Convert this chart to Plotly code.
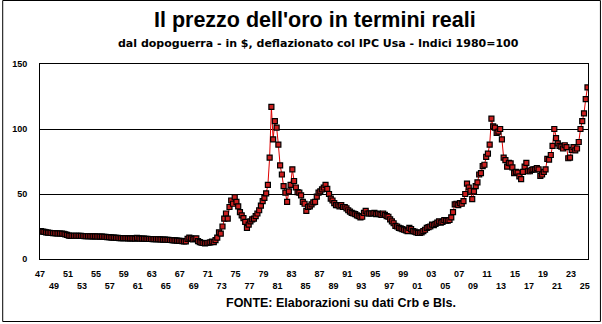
import numpy as np
import plotly.graph_objects as go

# Prezzo dell'oro in termini reali, indice 1980=100, dati trimestrali
primo_anno = 1947
indice = [
    21.5, 21.0, 20.8, 20.5,   # 1947
    20.3, 20.2, 20.0, 19.9,   # 1948
    19.8, 19.7, 19.6, 19.6,   # 1949
    19.5, 19.3, 19.0, 18.5,   # 1950
    18.0, 17.8, 17.9, 17.9,   # 1951
    17.9, 17.9, 17.8, 17.8,   # 1952
    17.7, 17.6, 17.5, 17.5,   # 1953
    17.5, 17.4, 17.4, 17.4,   # 1954
    17.3, 17.3, 17.2, 17.2,   # 1955
    17.1, 17.0, 16.9, 16.8,   # 1956
    16.6, 16.5, 16.4, 16.3,   # 1957
    16.2, 16.1, 16.1, 16.1,   # 1958
    16.0, 16.0, 15.9, 15.9,   # 1959
    15.8, 15.8, 15.7, 16.3,   # 1960
    15.8, 15.7, 15.6, 15.6,   # 1961
    15.5, 15.5, 15.4, 15.4,   # 1962
    15.3, 15.3, 15.2, 15.2,   # 1963
    15.1, 15.0, 14.9, 14.9,   # 1964
    14.8, 14.7, 14.6, 14.5,   # 1965
    14.4, 14.3, 14.1, 14.0,   # 1966
    13.9, 13.8, 13.6, 13.5,   # 1967
    15.5, 16.5, 15.8, 15.0,   # 1968
    15.5, 15.8, 13.8, 13.0,   # 1969
    12.5, 12.3, 12.0, 12.3,   # 1970
    12.5, 12.8, 13.3, 13.0,   # 1971
    14.5, 16.5, 20.5, 19.5,   # 1972
    25.0, 31.0, 35.0, 31.0,   # 1973
    40.0, 45.0, 42.5, 47.5,   # 1974
    44.0, 40.5, 36.0, 33.5,   # 1975
    31.5, 28.5, 24.0, 26.5,   # 1976
    29.0, 30.5, 31.0, 33.0,   # 1977
    35.0, 37.5, 41.0, 44.5,   # 1978
    47.0, 50.5, 57.0, 78.0,   # 1979
    117.0, 92.0, 106.0, 101.0,  # 1980
    88.0, 72.0, 65.0, 56.0,   # 1981
    51.0, 44.0, 52.0, 57.0,   # 1982
    69.0, 60.0, 55.0, 51.5,   # 1983
    51.0, 49.0, 44.0, 42.5,   # 1984
    37.0, 40.0, 40.5, 42.0,   # 1985
    43.5, 44.0, 48.0, 51.0,   # 1986
    52.0, 53.5, 55.0, 57.0,   # 1987
    54.0, 50.0, 46.5, 45.0,   # 1988
    43.0, 41.5, 41.5, 40.5,   # 1989
    41.5, 40.0, 40.0, 39.0,   # 1990
    37.5, 36.5, 35.5, 35.0,   # 1991
    34.5, 33.5, 33.0, 32.0,   # 1992
    32.5, 35.5, 37.0, 35.0,   # 1993
    35.0, 35.0, 35.0, 35.5,   # 1994
    34.5, 35.0, 34.5, 34.0,   # 1995
    35.0, 34.0, 33.0, 32.5,   # 1996
    30.5, 29.0, 27.5, 25.5,   # 1997
    25.0, 24.0, 23.5, 23.0,   # 1998
    22.5, 22.0, 21.5, 24.0,   # 1999
    23.0, 21.5, 21.0, 20.5,   # 2000
    20.0, 20.0, 20.5, 21.5,   # 2001
    22.5, 24.0, 24.5, 25.0,   # 2002
    26.5, 26.0, 27.0, 28.0,   # 2003
    29.0, 28.0, 28.5, 30.0,   # 2004
    29.5, 29.5, 30.0, 32.0,   # 2005
    36.0, 42.0, 42.5, 41.5,   # 2006
    43.0, 42.5, 44.5, 50.0,   # 2007
    58.0, 55.0, 52.5, 46.0,   # 2008
    52.0, 56.0, 59.0, 65.0,   # 2009
    66.0, 71.5, 72.5, 78.5,   # 2010
    81.0, 88.0, 108.0, 102.0,  # 2011
    101.0, 97.0, 98.0, 100.0,  # 2012
    92.0, 78.0, 76.0, 71.0,   # 2013
    74.0, 73.5, 70.5, 66.0,   # 2014
    67.0, 66.5, 63.5, 61.5,   # 2015
    67.0, 71.0, 74.0, 67.5,   # 2016
    67.5, 68.5, 69.0, 69.0,   # 2017
    70.0, 69.0, 64.0, 65.0,   # 2018
    67.0, 69.0, 77.0, 76.5,   # 2019
    80.0, 87.0, 100.0, 93.0,  # 2020
    89.0, 87.0, 86.5, 85.0,   # 2021
    87.5, 86.0, 77.5, 78.0,   # 2022
    84.0, 86.0, 83.5, 85.0,   # 2023
    90.0, 100.0, 106.0, 112.0,  # 2024
    123.0, 132.0,             # 2025
]

# etichette dell'asse orizzontale: un anno dispari ogni due, su due righe
anni_etichette = list(range(1947, 2026, 2))
etichette = [f"{a % 100:02d}" for a in anni_etichette]
valori_asse_y = [0, 50, 100, 150]

# posizione di ciascun trimestre al centro del periodo
tempo = primo_anno + (np.arange(len(indice)) + 0.5) / 4.0

FONT = "Liberation Sans, Arial, sans-serif"
FONT_LARGO = "DejaVu Sans, Verdana, sans-serif"

fig = go.Figure()
fig.add_trace(go.Scatter(
    x=tempo,
    y=indice,
    mode="lines+markers",
    line=dict(color="#e00000", width=1),
    marker=dict(symbol="square", size=5, color="#cc1f1f",
                line=dict(color="#000000", width=1.2)),
    showlegend=False,
    hoverinfo="x+y",
))

fig.update_layout(
    width=602,
    height=324,
    margin=dict(l=38, r=13, t=64, b=65),
    paper_bgcolor="white",
    plot_bgcolor="white",
    font=dict(family=FONT, color="black"),
    title=dict(
        text="<b>Il prezzo dell'oro in termini reali</b>",
        font=dict(family=FONT, size=21.5, color="black"),
        x=0.523, xanchor="center",
        y=1 - 19 / 324, yanchor="middle",
    ),
    xaxis=dict(
        range=[1947.0, 2025.45],
        tickmode="array",
        tickvals=anni_etichette,
        # le etichette alternano riga alta e riga bassa
        ticktext=[f"<b>{t}</b>" if i % 2 == 0 else f"<br><b>{t}</b>"
                  for i, t in enumerate(etichette)],
        tickfont=dict(family=FONT, size=9, color="black"),
        tickangle=0,
        showgrid=False,
        zeroline=False,
        showline=True, linecolor="black", linewidth=1, mirror=True,
        ticks="", ticklabelstandoff=6,
    ),
    yaxis=dict(
        range=[0, 150],
        tickmode="array",
        tickvals=valori_asse_y,
        ticktext=[f"<b>{v}</b>" for v in valori_asse_y],
        tickfont=dict(family=FONT, size=9, color="black"),
        showgrid=True, gridcolor="black", gridwidth=1,
        zeroline=False,
        showline=True, linecolor="black", linewidth=1, mirror=True,
        ticks="", ticklabelstandoff=10,
    ),
    annotations=[
        dict(
            text="<b>dal dopoguerra - in $, deflazionato col IPC Usa - Indici 1980=100</b>",
            xref="paper", yref="paper", x=0.508, y=(259 - 44) / 195,
            xanchor="center", yanchor="middle", showarrow=False,
            font=dict(family=FONT_LARGO, size=11, color="black"),
        ),
        dict(
            text="<b>FONTE: Elaborazioni su dati Crb e Bls.</b>",
            xref="paper", yref="paper", x=0.55, y=(259 - 303) / 195,
            xanchor="center", yanchor="middle", showarrow=False,
            font=dict(family=FONT, size=12.5, color="black"),
        ),
    ],
    shapes=[
        # cornice esterna dell'intera figura
        dict(type="rect", xref="paper", yref="paper",
             x0=(0.5 - 38) / 551, x1=(601.5 - 38) / 551,
             y0=(259 - 321.5) / 195, y1=(259 - 0.5) / 195,
             line=dict(color="black", width=1), fillcolor="rgba(0,0,0,0)",
             layer="above"),
    ],
)

fig.write_html("out.html")
